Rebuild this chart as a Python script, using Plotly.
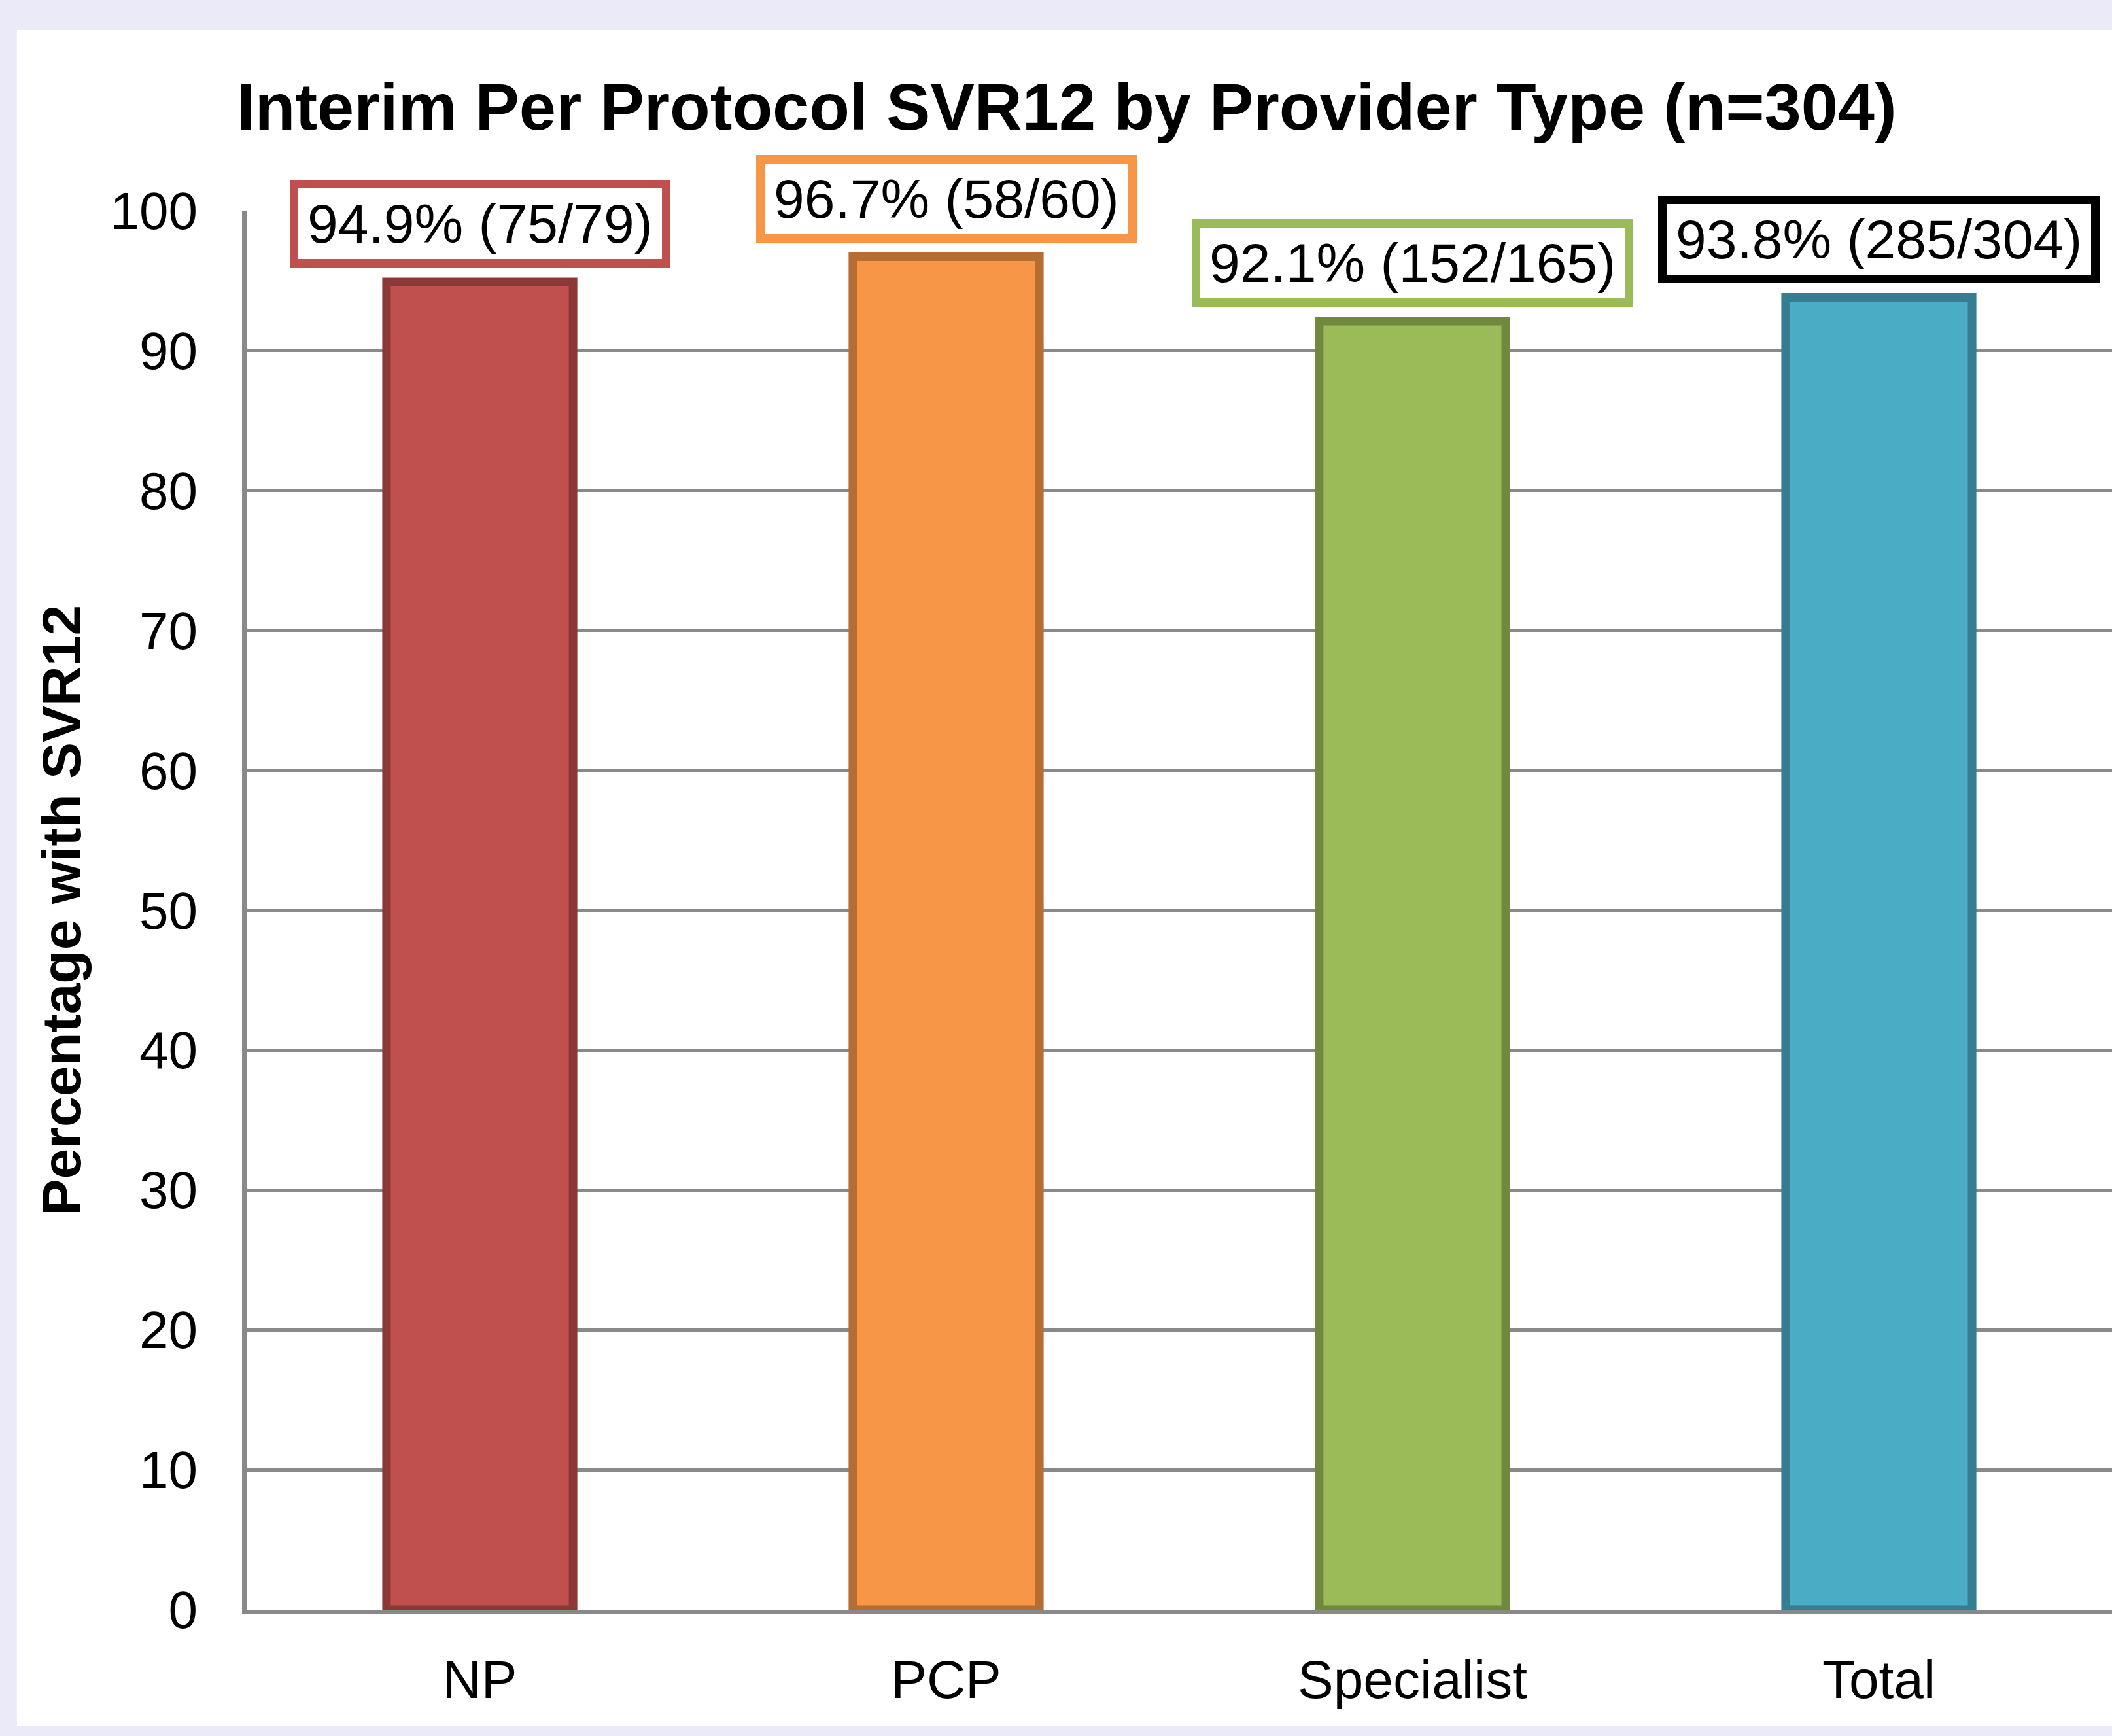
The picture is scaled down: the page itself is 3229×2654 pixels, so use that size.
import plotly.graph_objects as go

categories = ["NP", "PCP", "Specialist", "Total"]
svr_pct = [94.9, 96.7, 92.1, 93.8]
svr_n = [75, 58, 152, 285]
total_n = [79, 60, 165, 304]

fill_colors = ["#C0504D", "#F79646", "#9BBB59", "#4BACC6"]
line_colors = ["#8C3836", "#B66D31", "#71893F", "#357D91"]
box_colors = ["#C0504D", "#F79646", "#9BBB59", "#000000"]

FONT = "Liberation Sans, Arial, sans-serif"
GRID = "#898989"
HS = "\u200a"

fig = go.Figure()
fig.add_trace(go.Bar(
    x=categories, y=svr_pct, width=0.40,
    marker=dict(color=fill_colors, line=dict(color=line_colors, width=13)),
    showlegend=False, hoverinfo="skip",
))

for c, v, n, N, bc in zip(categories, svr_pct, svr_n, total_n, box_colors):
    fig.add_annotation(
        x=c, y=v, xref="x", yref="y",
        text=f"{HS}{v}% ({n}/{N}){HS}",
        showarrow=False, yanchor="bottom", xanchor="center", yshift=22,
        font=dict(family=FONT, size=84, color="black"),
        bgcolor="white", bordercolor=bc, borderwidth=13, borderpad=7,
    )

fig.add_annotation(
    text="Percentage with SVR12", xref="paper", yref="paper",
    x=0, y=0.5, xshift=-284, xanchor="center", yanchor="middle",
    textangle=-90, showarrow=False,
    font=dict(family=FONT, size=84, color="black", weight="bold"),
)

fig.update_layout(
    width=3203, height=2593,
    margin=dict(l=351, r=0, t=276, b=178, pad=0),
    paper_bgcolor="white", plot_bgcolor="white",
    title=dict(
        text="Interim Per Protocol SVR12 by Provider Type (n=304)",
        x=0.501, xref="container", xanchor="center",
        y=1 - 116.5 / 2593, yref="container", yanchor="middle",
        font=dict(family=FONT, size=101, color="black", weight="bold"),
    ),
    font=dict(family=FONT, color="black"),
    bargap=0.6,
)
fig.update_xaxes(
    showgrid=False, showline=True, linecolor=GRID, linewidth=7,
    layer="above traces", ticks="", ticklabelstandoff=30,
    tickfont=dict(family=FONT, size=82, color="black"),
    range=[-0.5, 3.5], fixedrange=True,
)
fig.update_yaxes(
    range=[0, 100], tickvals=list(range(0, 101, 10)),
    showgrid=True, gridcolor=GRID, gridwidth=5,
    showline=True, linecolor=GRID, linewidth=7, zeroline=False,
    layer="above traces", ticks="", ticklabelstandoff=52,
    tickfont=dict(family=FONT, size=80, color="black"),
    fixedrange=True,
)

post = ("document.body.style.margin='46px 0 15px 26px';"
        "document.body.style.background='#EAEAF8';"
        "document.body.style.overflow='hidden';"
        "document.documentElement.style.background='#EAEAF8';")
fig.write_html("out.html", post_script=post, config={"displayModeBar": False})
